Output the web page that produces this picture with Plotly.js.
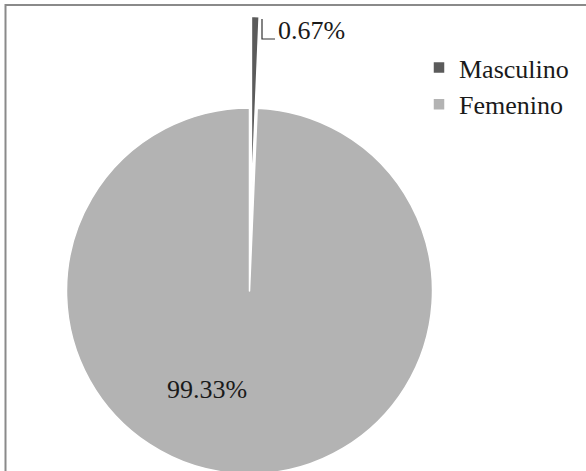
<!DOCTYPE html>
<html>
<head>
<meta charset="utf-8">
<script src="https://cdn.plot.ly/plotly-3.0.1.min.js"></script>
<style>
#chart svg text { font-family: 'Liberation Serif', 'Times New Roman', serif !important; }
#fontwarm { position:absolute; left:300px; top:200px; font-family:'Liberation Serif'; font-size:26px; color:#b3b3b3; z-index:0; }
#chart { position:absolute; left:-25px; top:0; z-index:1; }
</style>
</head>
<body style="margin:0;overflow:hidden;background:#fff">
<div id="fontwarm">Masculino Femenino 0.67% 99.33%</div>
<div id="chart"></div>
<script>
// Data
const labels = ['Masculino', 'Femenino'];
const values = [0.67, 99.33];

// Geometry helpers (div is shifted 25px left so the pie centre sits at x≈250)
const OFFX = 25, W = 611, H = 566;
const px = X => (X + OFFX) / W;
const py = Y => 1 - Y / H;

const total = values.reduce((a, b) => a + b, 0);
const pct = values.map(v => (v / total * 100).toFixed(2) + '%');

const serifFont = {family: 'Liberation Serif', size: 26, color: '#1a1a1a'};

const trace = {
  type: 'pie',
  labels: labels,
  values: values,
  sort: false,
  direction: 'clockwise',
  rotation: 0,
  pull: [0.5, 0],
  marker: {colors: ['#5b5b5b', '#b3b3b3'], line: {color: '#ffffff', width: 1.5}},
  textinfo: 'none',
  hoverinfo: 'label+percent',
  domain: {x: [0, 549 / W], y: [1 - (16.5 + 549) / H, 1 - 16.5 / H]}
};

const layout = {
  width: W,
  height: H,
  margin: {l: 0, r: 0, t: 0, b: 0},
  paper_bgcolor: '#ffffff',
  font: serifFont,
  showlegend: true,
  legend: {
    x: px(419), xanchor: 'left',
    y: py(44), yanchor: 'top',
    font: serifFont,
    bgcolor: 'rgba(0,0,0,0)'
  },
  shapes: [
    {type: 'path', xref: 'paper', yref: 'paper',
     path: 'M ' + px(5.5) + ',' + py(600) + ' L ' + px(5.5) + ',' + py(5) + ' L ' + px(588) + ',' + py(5),
     line: {color: '#8a8a8a', width: 2}},
    {type: 'path', xref: 'paper', yref: 'paper',
     path: 'M ' + px(262) + ',' + py(19) + ' L ' + px(262) + ',' + py(39) + ' L ' + px(275) + ',' + py(39),
     line: {color: '#333333', width: 1.2}}
  ],
  annotations: [
    {xref: 'paper', yref: 'paper', x: px(276), y: py(31), xanchor: 'left', yanchor: 'middle',
     text: pct[0], showarrow: false, font: serifFont},
    {xref: 'paper', yref: 'paper', x: px(207), y: py(389), xanchor: 'center', yanchor: 'middle',
     text: pct[1], showarrow: false, font: serifFont}
  ]
};

function forceSerif() {
  document.querySelectorAll('#chart svg text').forEach(t => {
    t.style.setProperty('font-family', "'Liberation Serif', 'Times New Roman', serif", 'important');
  });
}

function draw() {
  Plotly.newPlot('chart', [trace], layout, {displayModeBar: false}).then(forceSerif);
}
const ready = (document.fonts && document.fonts.ready) ? document.fonts.ready : Promise.resolve();
ready.then(draw, draw);
</script>
</body>
</html>
